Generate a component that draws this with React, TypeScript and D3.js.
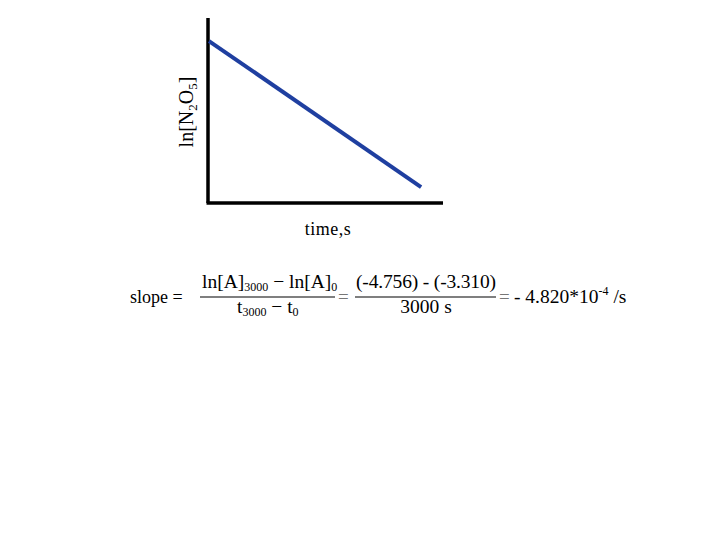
import React from "react";
import * as d3 from "d3";

const times = [0, 3000];
const lnValues = [-3.31, -4.756];
const xDomain = [-14, 3310];
const yDomain = [-4.914, -3.082];

export default function App() {
  const x = d3.scaleLinear().domain(xDomain).range([208, 443]);
  const y = d3.scaleLinear().domain(yDomain).range([203, 18]);
  const pts = times.map((t, i) => [t, lnValues[i]] as [number, number]);
  const line = d3.line<[number, number]>().x(d => x(d[0])).y(d => y(d[1]));
  const font = "'Liberation Serif', 'Times New Roman', serif";
  return (
    <svg width={720} height={540} style={{ position: "absolute", left: 0, top: 0, background: "#fff" }} fontFamily={font}>
      <line x1={x(xDomain[0])} y1={y(yDomain[0])} x2={x(xDomain[0])} y2={y(yDomain[1])} stroke="#000" strokeWidth={3.5} />
      <line x1={x(xDomain[0]) - 1.5} y1={y(yDomain[0])} x2={x(xDomain[1])} y2={y(yDomain[0])} stroke="#000" strokeWidth={3.5} />
      <path d={line(pts) || ""} fill="none" stroke="#1f3fa0" strokeWidth={4} />
      <text transform="translate(193,112) rotate(-90)" textAnchor="middle" fontSize={20}>
        ln[N<tspan fontSize={13} dy={4}>2</tspan><tspan dy={-4}>O</tspan><tspan fontSize={13} dy={4}>5</tspan><tspan dy={-4}>]</tspan>
      </text>
      <text x={328} y={235} textAnchor="middle" fontSize={18} letterSpacing={0.5}>time,s</text>
      <text x={130} y={303} fontSize={18}>slope =</text>
      <text x={202} y={288} fontSize={19.5}>
        ln[A]<tspan fontSize={12} dy={3}>3000</tspan><tspan dy={-3}> − ln[A]</tspan><tspan fontSize={12} dy={3}>0</tspan>
      </text>
      <line x1={200} y1={297} x2={335} y2={297} stroke="#000" strokeWidth={1.2} />
      <text x={237} y={313} fontSize={19.5}>
        t<tspan fontSize={12} dy={3}>3000</tspan><tspan dy={-3}> − t</tspan><tspan fontSize={12} dy={3}>0</tspan>
      </text>
      <text x={338} y={303} fontSize={19} fill="#777">=</text>
      <text x={356} y={288} fontSize={19.5} textLength={140} lengthAdjust="spacing">(-4.756) - (-3.310)</text>
      <line x1={355} y1={297} x2={496} y2={297} stroke="#000" strokeWidth={1.2} />
      <text x={426} y={313} textAnchor="middle" fontSize={19.5}>3000 s</text>
      <text x={499} y={303} fontSize={19} fill="#777">=</text>
      <text x={514} y={303} fontSize={19.5}>
        - 4.820*10<tspan fontSize={12} dy={-8}>-4</tspan><tspan dy={8}> /s</tspan>
      </text>
    </svg>
  );
}
